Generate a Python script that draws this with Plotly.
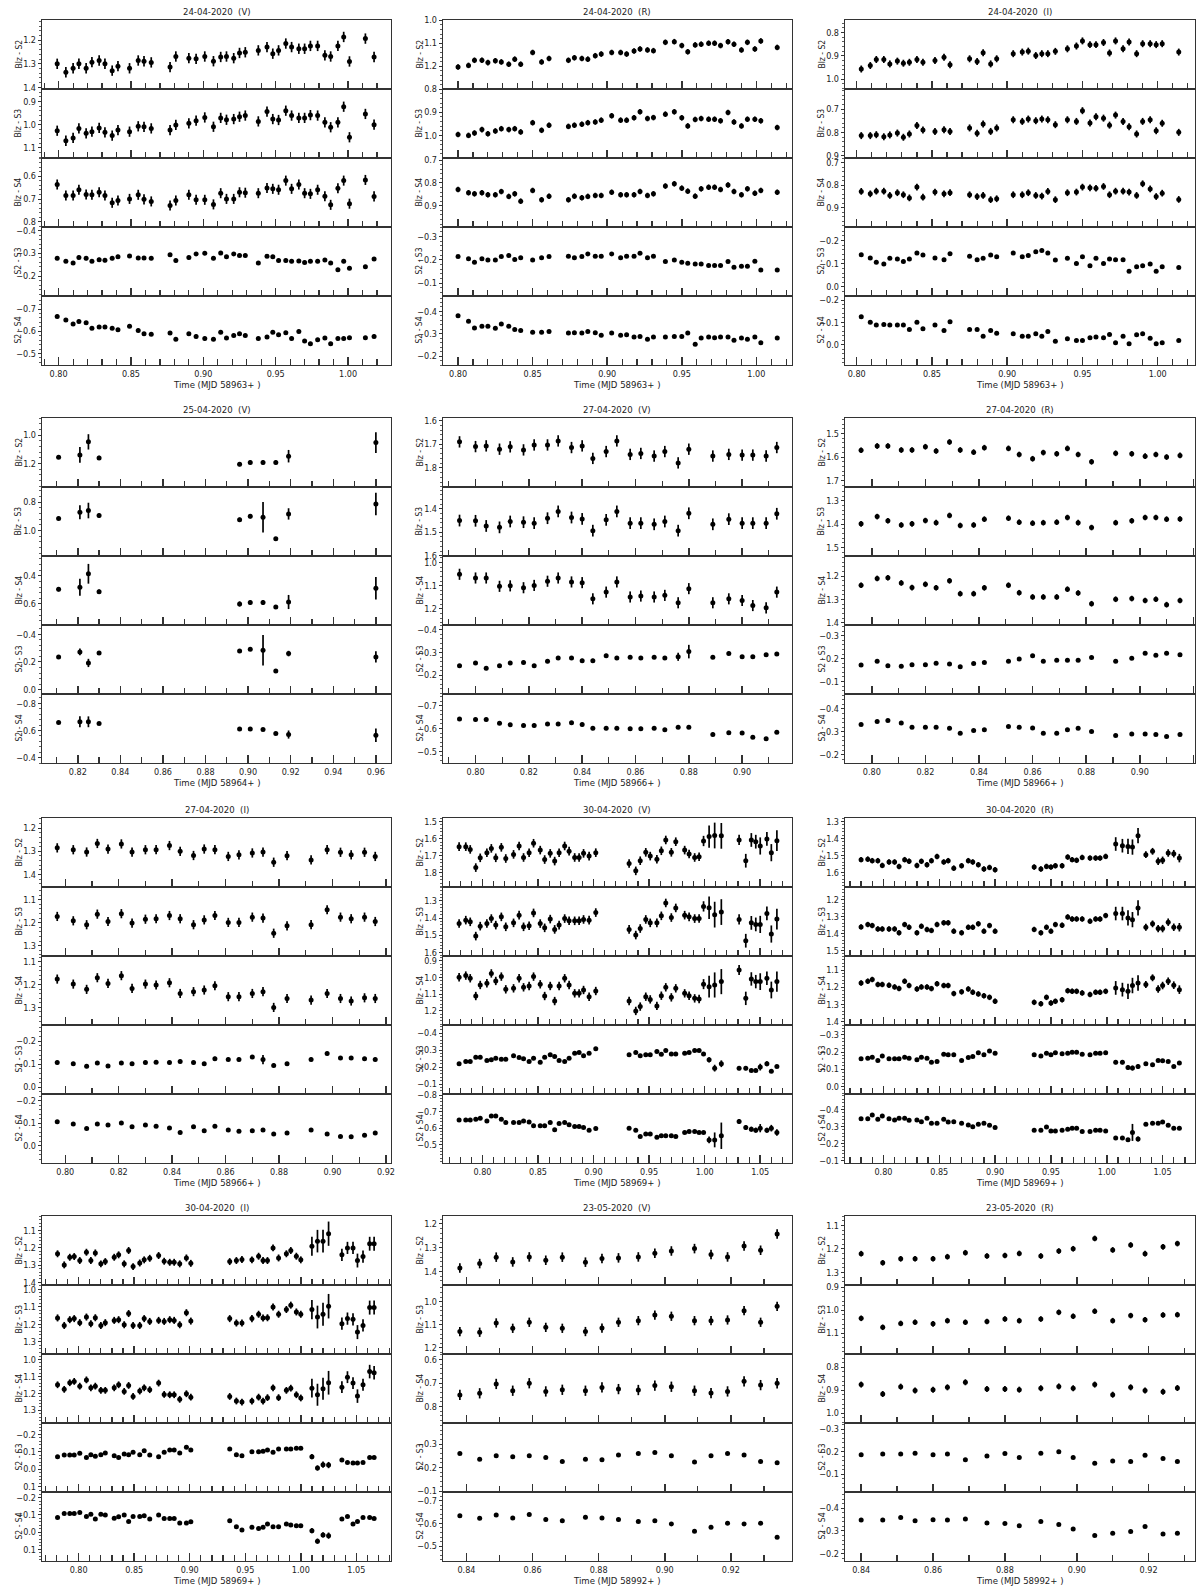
import plotly.graph_objects as go

# ---------------- Panel 1: 24-04-2020 (V) ----------------
p1_t = [0.799,0.805,0.810,0.814,0.819,0.823,0.828,0.832,0.837,0.841,0.849,0.855,0.859,0.864,0.877,0.881,0.890,0.895,0.901,0.907,0.912,0.916,0.921,0.925,0.929,0.938,0.944,0.948,0.952,0.957,0.961,0.966,0.970,0.974,0.979,0.984,0.988,0.993,0.997,1.001,1.012,1.018]
p1_s2 = [1.300,1.336,1.319,1.300,1.319,1.293,1.286,1.300,1.329,1.310,1.319,1.286,1.289,1.294,1.314,1.269,1.276,1.279,1.269,1.289,1.271,1.269,1.276,1.254,1.251,1.243,1.229,1.257,1.243,1.214,1.229,1.236,1.236,1.224,1.224,1.264,1.269,1.224,1.186,1.290,1.193,1.271]
p1_s3 = [1.026,1.069,1.057,1.016,1.037,1.030,1.014,1.033,1.047,1.023,1.030,1.007,1.009,1.016,1.023,1.001,0.994,0.983,0.969,1.009,0.971,0.979,0.976,0.966,0.961,0.986,0.944,0.976,0.980,0.940,0.961,0.971,0.971,0.959,0.961,0.990,1.011,0.990,0.923,1.054,0.954,1.000]
p1_s4 = [0.636,0.684,0.684,0.659,0.680,0.681,0.670,0.684,0.716,0.706,0.699,0.681,0.701,0.710,0.728,0.706,0.681,0.703,0.703,0.723,0.674,0.699,0.699,0.670,0.672,0.674,0.651,0.655,0.659,0.619,0.655,0.636,0.674,0.677,0.659,0.687,0.725,0.652,0.619,0.720,0.616,0.688]
p1_s23 = [-0.278,-0.265,-0.257,-0.282,-0.278,-0.265,-0.272,-0.269,-0.278,-0.285,-0.288,-0.279,-0.279,-0.278,-0.293,-0.268,-0.281,-0.297,-0.300,-0.278,-0.301,-0.285,-0.297,-0.290,-0.290,-0.257,-0.287,-0.285,-0.268,-0.268,-0.265,-0.266,-0.260,-0.265,-0.265,-0.271,-0.257,-0.228,-0.265,-0.235,-0.241,-0.275]
p1_s24 = [-0.667,-0.651,-0.633,-0.644,-0.638,-0.614,-0.619,-0.619,-0.614,-0.607,-0.623,-0.604,-0.589,-0.587,-0.592,-0.564,-0.589,-0.577,-0.567,-0.564,-0.596,-0.570,-0.581,-0.589,-0.581,-0.567,-0.574,-0.596,-0.584,-0.593,-0.567,-0.599,-0.556,-0.544,-0.562,-0.570,-0.544,-0.567,-0.567,-0.571,-0.571,-0.577]
p1_err = [0.022, 0.022, 0.022, 0.008, 0.008]
p1_yticks = [[1.2,1.3,1.4],[0.9,1.0,1.1],[0.6,0.7,0.8],[-0.4,-0.3,-0.2],[-0.7,-0.6,-0.5]]
p1_xticks = [0.80,0.85,0.90,0.95,1.00]

# ---------------- Panel 2: 24-04-2020 (R) ----------------
p2_t = [0.800,0.807,0.811,0.816,0.820,0.825,0.829,0.834,0.838,0.842,0.850,0.856,0.861,0.874,0.878,0.883,0.887,0.892,0.896,0.903,0.909,0.913,0.918,0.922,0.927,0.931,0.939,0.945,0.950,0.954,0.959,0.963,0.968,0.972,0.976,0.981,0.985,0.990,0.994,0.999,1.003,1.014]
p2_s2 = [1.203,1.196,1.174,1.174,1.184,1.176,1.181,1.191,1.169,1.191,1.140,1.181,1.166,1.174,1.163,1.166,1.169,1.154,1.147,1.140,1.140,1.147,1.134,1.125,1.129,1.132,1.096,1.093,1.110,1.137,1.107,1.104,1.100,1.100,1.110,1.093,1.104,1.129,1.096,1.125,1.090,1.118]
p2_s3 = [0.996,1.000,0.990,0.975,0.993,0.981,0.971,0.975,0.971,0.985,0.945,0.978,0.956,0.961,0.956,0.952,0.945,0.942,0.934,0.915,0.934,0.934,0.924,0.898,0.927,0.923,0.908,0.898,0.924,0.959,0.931,0.927,0.930,0.930,0.937,0.901,0.942,0.959,0.930,0.930,0.937,0.966]
p2_s4 = [0.829,0.843,0.848,0.843,0.852,0.852,0.838,0.859,0.848,0.880,0.833,0.874,0.858,0.874,0.858,0.865,0.859,0.855,0.855,0.841,0.852,0.852,0.852,0.838,0.855,0.848,0.814,0.804,0.823,0.836,0.858,0.826,0.819,0.819,0.829,0.809,0.838,0.852,0.826,0.845,0.833,0.841]
p2_s23 = [-0.214,-0.204,-0.189,-0.204,-0.199,-0.199,-0.214,-0.218,-0.201,-0.208,-0.199,-0.208,-0.214,-0.215,-0.208,-0.214,-0.225,-0.215,-0.215,-0.225,-0.208,-0.215,-0.215,-0.228,-0.208,-0.215,-0.192,-0.199,-0.189,-0.185,-0.182,-0.182,-0.175,-0.175,-0.175,-0.192,-0.168,-0.172,-0.172,-0.194,-0.156,-0.156]
p2_s24 = [-0.381,-0.356,-0.326,-0.334,-0.334,-0.325,-0.344,-0.334,-0.319,-0.315,-0.307,-0.307,-0.310,-0.303,-0.304,-0.303,-0.310,-0.304,-0.293,-0.303,-0.293,-0.296,-0.285,-0.288,-0.275,-0.285,-0.285,-0.288,-0.288,-0.303,-0.253,-0.281,-0.285,-0.282,-0.285,-0.285,-0.271,-0.281,-0.275,-0.285,-0.260,-0.281]
p2_err = [0.012, 0.012, 0.012, 0.006, 0.006]
p2_yticks = [[1.0,1.1,1.2],[0.8,0.9,1.0],[0.7,0.8,0.9],[-0.3,-0.2,-0.1],[-0.4,-0.3,-0.2]]
p2_xticks = [0.80,0.85,0.90,0.95,1.00]

# ---------------- Panel 3: 24-04-2020 (I) ----------------
p3_t = [0.803,0.809,0.813,0.818,0.822,0.827,0.831,0.835,0.840,0.844,0.852,0.858,0.862,0.875,0.880,0.884,0.889,0.893,0.904,0.910,0.914,0.919,0.923,0.927,0.932,0.940,0.946,0.950,0.955,0.959,0.964,0.968,0.972,0.977,0.981,0.986,0.990,0.995,0.999,1.003,1.014]
p3_s2 = [0.957,0.942,0.916,0.916,0.935,0.923,0.932,0.928,0.916,0.928,0.920,0.906,0.939,0.913,0.925,0.887,0.935,0.913,0.891,0.884,0.880,0.899,0.891,0.891,0.881,0.870,0.858,0.836,0.852,0.852,0.843,0.888,0.836,0.870,0.841,0.891,0.848,0.848,0.852,0.848,0.884]
p3_s3 = [0.814,0.814,0.810,0.819,0.811,0.803,0.821,0.807,0.771,0.790,0.796,0.789,0.796,0.781,0.804,0.764,0.796,0.781,0.746,0.753,0.743,0.750,0.743,0.746,0.767,0.746,0.753,0.707,0.760,0.733,0.739,0.769,0.726,0.753,0.776,0.807,0.753,0.746,0.793,0.761,0.800]
p3_s4 = [0.827,0.838,0.826,0.826,0.845,0.833,0.842,0.856,0.808,0.853,0.830,0.838,0.833,0.842,0.850,0.845,0.864,0.860,0.842,0.842,0.833,0.845,0.848,0.827,0.864,0.833,0.830,0.808,0.811,0.813,0.805,0.842,0.826,0.826,0.830,0.845,0.793,0.816,0.850,0.835,0.863]
p3_s23 = [-0.139,-0.125,-0.106,-0.099,-0.123,-0.120,-0.110,-0.120,-0.146,-0.138,-0.125,-0.117,-0.143,-0.132,-0.117,-0.123,-0.138,-0.130,-0.146,-0.130,-0.135,-0.152,-0.157,-0.146,-0.116,-0.123,-0.101,-0.130,-0.091,-0.123,-0.101,-0.120,-0.117,-0.117,-0.067,-0.087,-0.091,-0.099,-0.067,-0.087,-0.084]
p3_s24 = [-0.125,-0.100,-0.088,-0.090,-0.088,-0.088,-0.088,-0.068,-0.100,-0.071,-0.088,-0.063,-0.103,-0.068,-0.068,-0.038,-0.063,-0.051,-0.049,-0.038,-0.038,-0.049,-0.038,-0.059,-0.015,-0.026,-0.019,-0.019,-0.031,-0.034,-0.031,-0.046,-0.009,-0.038,-0.004,-0.044,-0.049,-0.029,-0.004,-0.009,-0.019]
p3_err = [0.015, 0.015, 0.015, 0.007, 0.007]
p3_yticks = [[0.8,0.9,1.0],[0.7,0.8,0.9],[0.7,0.8,0.9],[-0.2,-0.1,0.0],[-0.2,-0.1,0.0]]
p3_xticks = [0.80,0.85,0.90,0.95,1.00]

# ---------------- Panel 4: 25-04-2020 (V) ----------------
p4_t = [0.811,0.821,0.825,0.830,0.896,0.901,0.907,0.913,0.919,0.960]
p4_s2 = [1.157,1.140,1.048,1.161,1.205,1.193,1.193,1.193,1.149,1.053]
p4_s3 = [0.916,0.872,0.860,0.896,0.925,0.901,0.908,1.060,0.884,0.814]
p4_s4 = [0.496,0.482,0.386,0.513,0.600,0.590,0.590,0.622,0.586,0.489]
p4_s23 = [-0.237,-0.273,-0.193,-0.266,-0.280,-0.293,-0.285,-0.134,-0.261,-0.237]
p4_s24 = [-0.659,-0.664,-0.664,-0.652,-0.610,-0.610,-0.607,-0.578,-0.570,-0.565]
p4_err = [
    [0.012,0.056,0.054,0.015,0.015,0.014,0.015,0.014,0.044,0.073],
    [0.012,0.050,0.055,0.015,0.015,0.015,0.108,0.012,0.040,0.080],
    [0.015,0.060,0.070,0.015,0.018,0.015,0.018,0.012,0.050,0.080],
    [0.010,0.025,0.030,0.010,0.010,0.010,0.110,0.008,0.020,0.040],
    [0.010,0.040,0.040,0.010,0.010,0.010,0.010,0.010,0.030,0.050]]
p4_yticks = [[1.0,1.2],[0.8,1.0],[0.4,0.6],[-0.4,-0.2,0.0],[-0.8,-0.6,-0.4]]
p4_xticks = [0.82,0.84,0.86,0.88,0.90,0.92,0.94,0.96]

# ---------------- Panel 5: 27-04-2020 (V) ----------------
p5_t = [0.794,0.800,0.804,0.809,0.813,0.818,0.822,0.827,0.831,0.836,0.840,0.844,0.849,0.853,0.858,0.862,0.867,0.871,0.876,0.880,0.889,0.895,0.900,0.904,0.909,0.913]
p5_s2 = [1.690,1.710,1.707,1.721,1.711,1.724,1.703,1.703,1.686,1.714,1.707,1.760,1.731,1.686,1.743,1.739,1.750,1.731,1.779,1.721,1.750,1.743,1.746,1.746,1.750,1.714]
p5_s3 = [1.450,1.451,1.473,1.479,1.454,1.457,1.461,1.440,1.411,1.437,1.443,1.493,1.447,1.411,1.461,1.461,1.466,1.454,1.493,1.419,1.466,1.444,1.461,1.461,1.461,1.421]
p5_s4 = [1.051,1.067,1.067,1.103,1.101,1.109,1.099,1.081,1.067,1.084,1.087,1.157,1.128,1.084,1.149,1.145,1.149,1.142,1.174,1.113,1.174,1.157,1.164,1.186,1.196,1.128]
p5_s23 = [-0.241,-0.253,-0.230,-0.241,-0.253,-0.256,-0.241,-0.261,-0.276,-0.276,-0.264,-0.264,-0.286,-0.276,-0.279,-0.276,-0.279,-0.276,-0.281,-0.304,-0.279,-0.296,-0.281,-0.281,-0.290,-0.293]
p5_s24 = [-0.642,-0.639,-0.639,-0.623,-0.616,-0.613,-0.613,-0.620,-0.620,-0.625,-0.617,-0.601,-0.601,-0.601,-0.599,-0.599,-0.601,-0.594,-0.606,-0.606,-0.574,-0.581,-0.580,-0.562,-0.555,-0.584]
p5_err = [0.024, 0.025, 0.024, (0.008, {18: 0.018, 19: 0.03}), 0.008]
p5_yticks = [[1.6,1.7,1.8],[1.4,1.5,1.6],[1.0,1.1,1.2],[-0.4,-0.3,-0.2],[-0.7,-0.6,-0.5]]
p5_xticks = [0.80,0.82,0.84,0.86,0.88,0.90]

# ---------------- Panel 6: 27-04-2020 (R) ----------------
p6_t = [0.796,0.802,0.806,0.811,0.815,0.820,0.824,0.829,0.833,0.838,0.842,0.851,0.855,0.860,0.864,0.869,0.873,0.877,0.882,0.891,0.897,0.902,0.906,0.910,0.915]
p6_s2 = [1.571,1.553,1.553,1.570,1.570,1.556,1.574,1.536,1.570,1.579,1.560,1.563,1.589,1.607,1.581,1.586,1.563,1.589,1.620,1.584,1.586,1.596,1.589,1.600,1.593]
p6_s3 = [1.399,1.368,1.386,1.404,1.399,1.385,1.394,1.363,1.406,1.404,1.379,1.375,1.392,1.396,1.394,1.392,1.372,1.394,1.415,1.394,1.386,1.372,1.372,1.379,1.378]
p6_s4 = [1.239,1.210,1.207,1.229,1.249,1.235,1.250,1.220,1.275,1.275,1.250,1.239,1.271,1.289,1.289,1.289,1.256,1.272,1.318,1.299,1.296,1.304,1.299,1.322,1.304]
p6_s23 = [-0.172,-0.188,-0.169,-0.166,-0.173,-0.173,-0.180,-0.176,-0.164,-0.179,-0.183,-0.188,-0.198,-0.212,-0.188,-0.193,-0.193,-0.193,-0.205,-0.188,-0.201,-0.223,-0.215,-0.223,-0.217]
p6_s24 = [-0.332,-0.345,-0.349,-0.338,-0.320,-0.320,-0.320,-0.316,-0.294,-0.306,-0.309,-0.323,-0.320,-0.317,-0.294,-0.294,-0.309,-0.316,-0.301,-0.284,-0.291,-0.291,-0.288,-0.280,-0.288]
p6_err = [0.012, 0.012, 0.012, 0.005, 0.005]
p6_yticks = [[1.5,1.6,1.7],[1.3,1.4,1.5],[1.2,1.3,1.4],[-0.3,-0.2,-0.1],[-0.4,-0.3,-0.2]]
p6_xticks = [0.80,0.82,0.84,0.86,0.88,0.90,0.92]

# ---------------- Panel 7: 27-04-2020 (I) ----------------
p7_t = [0.797,0.803,0.808,0.812,0.816,0.821,0.825,0.830,0.834,0.839,0.843,0.848,0.852,0.856,0.861,0.865,0.870,0.874,0.878,0.883,0.892,0.898,0.903,0.907,0.912,0.916]
p7_s2 = [1.285,1.293,1.303,1.266,1.290,1.268,1.303,1.293,1.293,1.275,1.300,1.318,1.290,1.293,1.322,1.315,1.307,1.303,1.347,1.319,1.337,1.293,1.304,1.315,1.304,1.322]
p7_s3 = [1.173,1.192,1.209,1.163,1.195,1.161,1.202,1.185,1.183,1.169,1.183,1.209,1.188,1.169,1.199,1.199,1.176,1.180,1.246,1.214,1.209,1.144,1.176,1.183,1.176,1.195]
p7_s4 = [1.176,1.198,1.221,1.170,1.195,1.161,1.217,1.198,1.202,1.192,1.239,1.231,1.224,1.205,1.253,1.253,1.239,1.231,1.300,1.261,1.268,1.239,1.261,1.272,1.258,1.261]
p7_s23 = [-0.107,-0.102,-0.091,-0.105,-0.092,-0.105,-0.102,-0.107,-0.109,-0.107,-0.112,-0.107,-0.102,-0.124,-0.121,-0.120,-0.131,-0.120,-0.095,-0.102,-0.121,-0.146,-0.127,-0.127,-0.124,-0.121]
p7_s24 = [-0.107,-0.096,-0.077,-0.096,-0.092,-0.101,-0.084,-0.092,-0.086,-0.079,-0.059,-0.084,-0.067,-0.086,-0.070,-0.064,-0.067,-0.070,-0.052,-0.056,-0.070,-0.052,-0.041,-0.040,-0.047,-0.056]
p7_err = [0.02, 0.02, 0.02, (0.008, {17: 0.02}), 0.006]
p7_yticks = [[1.2,1.3,1.4],[1.1,1.2,1.3],[1.1,1.2,1.3],[-0.2,-0.1,0.0],[-0.2,-0.1,0.0]]
p7_xticks = [0.80,0.82,0.84,0.86,0.88,0.90,0.92]

# ---------------- Panel 8: 30-04-2020 (V) ----------------
p8_t = [0.779,0.785,0.789,0.794,0.798,0.804,0.808,0.812,0.817,0.821,0.828,0.833,0.837,0.842,0.846,0.852,0.856,0.861,0.865,0.869,0.874,0.878,0.883,0.887,0.891,0.896,0.902,
        0.932,0.938,0.942,0.947,0.951,0.957,0.961,0.965,0.970,0.974,0.982,0.986,0.991,0.995,0.999,1.004,1.009,1.015,
        1.031,1.037,1.042,1.046,1.050,1.056,1.060,1.065]
p8_s2 = [1.647,1.647,1.663,1.769,1.712,1.682,1.657,1.712,1.651,1.716,1.692,1.643,1.710,1.682,1.627,1.667,1.722,1.686,1.731,1.682,1.643,1.673,1.710,1.710,1.686,1.702,1.682,
         1.745,1.788,1.729,1.680,1.702,1.720,1.671,1.608,1.680,1.618,1.667,1.690,1.710,1.706,1.614,1.588,1.582,1.584,
         1.608,1.729,1.608,1.618,1.643,1.602,1.682,1.612]
p8_s3 = [1.432,1.412,1.422,1.505,1.447,1.432,1.403,1.441,1.393,1.451,1.428,1.383,1.451,1.445,1.370,1.432,1.457,1.406,1.466,1.441,1.403,1.416,1.416,1.416,1.408,1.412,1.368,
         1.466,1.499,1.461,1.408,1.428,1.428,1.387,1.312,1.397,1.341,1.383,1.393,1.403,1.403,1.332,1.340,1.380,1.365,
         1.408,1.532,1.428,1.437,1.437,1.373,1.493,1.406]
p8_s4 = [0.999,0.989,1.005,1.111,1.045,1.035,0.976,1.021,0.995,1.071,1.065,1.005,1.059,1.051,0.995,1.041,1.111,1.051,1.141,1.051,1.005,1.045,1.095,1.095,1.075,1.115,1.081,
         1.141,1.200,1.174,1.115,1.131,1.170,1.109,1.059,1.119,1.065,1.095,1.109,1.125,1.129,1.040,1.055,1.045,1.025,
         0.956,1.125,1.009,1.025,1.025,1.005,1.075,1.025]
p8_s23 = [-0.220,-0.233,-0.233,-0.259,-0.259,-0.239,-0.243,-0.253,-0.247,-0.247,-0.267,-0.257,-0.249,-0.233,-0.253,-0.229,-0.259,-0.273,-0.263,-0.239,-0.233,-0.253,-0.282,-0.286,-0.267,-0.282,-0.308,
          -0.273,-0.286,-0.267,-0.273,-0.273,-0.292,-0.276,-0.298,-0.278,-0.278,-0.282,-0.286,-0.298,-0.298,-0.278,-0.243,-0.194,-0.220,
          -0.194,-0.194,-0.180,-0.180,-0.200,-0.220,-0.175,-0.204]
p8_s24 = [-0.651,-0.651,-0.651,-0.655,-0.661,-0.645,-0.675,-0.675,-0.655,-0.635,-0.635,-0.635,-0.645,-0.639,-0.615,-0.615,-0.615,-0.635,-0.591,-0.629,-0.635,-0.621,-0.611,-0.611,-0.605,-0.589,-0.599,
          -0.601,-0.589,-0.550,-0.565,-0.565,-0.546,-0.555,-0.555,-0.555,-0.550,-0.575,-0.581,-0.581,-0.575,-0.575,-0.530,-0.530,-0.555,
          -0.641,-0.605,-0.595,-0.589,-0.601,-0.589,-0.601,-0.575]
p8_blz_big = {41: 0.03, 42: 0.065, 43: 0.075, 44: 0.075, 45: 0.03, 46: 0.04, 47: 0.04, 48: 0.04, 49: 0.05, 50: 0.04, 51: 0.05, 52: 0.06}
p8_err = [(0.025, p8_blz_big), (0.025, p8_blz_big), (0.025, p8_blz_big),
          (0.008, {42: 0.015, 43: 0.02, 44: 0.02, 45: 0.012, 46: 0.012, 49: 0.02, 50: 0.015}),
          (0.008, {42: 0.02, 43: 0.045, 44: 0.08, 45: 0.015, 46: 0.015, 47: 0.015, 48: 0.015, 49: 0.025, 50: 0.015, 51: 0.02, 52: 0.02})]
p8_yticks = [[1.5,1.6,1.7,1.8],[1.3,1.4,1.5,1.6],[0.9,1.0,1.1,1.2],[-0.4,-0.3,-0.2,-0.1],[-0.8,-0.7,-0.6,-0.5]]
p8_xticks = [0.80,0.85,0.90,0.95,1.00,1.05]

# ---------------- Panel 9: 30-04-2020 (R) ----------------
p9_t = [0.780,0.786,0.790,0.795,0.799,0.805,0.810,0.814,0.819,0.823,0.830,0.834,0.839,0.843,0.848,0.854,0.858,0.863,0.870,0.876,0.880,0.885,0.890,0.895,0.900,
        0.935,0.941,0.946,0.950,0.954,0.960,0.965,0.969,0.973,0.978,0.985,0.990,0.994,0.999,1.008,1.014,1.019,1.023,1.028,1.035,1.041,1.046,1.050,1.055,1.060,1.065]
p9_s2 = [1.525,1.522,1.531,1.531,1.559,1.539,1.539,1.565,1.525,1.535,1.559,1.535,1.555,1.531,1.506,1.539,1.531,1.575,1.561,1.531,1.539,1.555,1.580,1.571,1.584,
         1.569,1.580,1.565,1.569,1.561,1.561,1.510,1.525,1.529,1.512,1.516,1.516,1.516,1.506,1.433,1.443,1.447,1.451,1.384,1.496,1.476,1.535,1.529,1.486,1.490,1.516]
p9_s3 = [1.361,1.347,1.353,1.373,1.373,1.373,1.373,1.396,1.347,1.363,1.396,1.357,1.376,1.382,1.347,1.337,1.337,1.386,1.396,1.363,1.363,1.343,1.386,1.353,1.386,
         1.376,1.396,1.363,1.386,1.347,1.351,1.302,1.314,1.314,1.314,1.327,1.314,1.314,1.294,1.282,1.282,1.308,1.318,1.249,1.363,1.343,1.371,1.371,1.333,1.363,1.363]
p9_s4 = [1.175,1.165,1.155,1.184,1.184,1.188,1.198,1.208,1.165,1.190,1.210,1.198,1.198,1.208,1.180,1.190,1.190,1.237,1.227,1.210,1.229,1.239,1.249,1.259,1.282,
         1.288,1.296,1.259,1.292,1.282,1.273,1.220,1.224,1.224,1.233,1.243,1.229,1.229,1.224,1.204,1.214,1.224,1.190,1.175,1.184,1.145,1.210,1.190,1.165,1.188,1.214]
p9_s23 = [-0.161,-0.165,-0.170,-0.151,-0.178,-0.161,-0.161,-0.161,-0.170,-0.165,-0.155,-0.170,-0.165,-0.141,-0.145,-0.188,-0.184,-0.184,-0.151,-0.168,-0.174,-0.197,-0.184,-0.207,-0.194,
          -0.184,-0.178,-0.194,-0.184,-0.197,-0.190,-0.194,-0.199,-0.199,-0.188,-0.184,-0.194,-0.194,-0.197,-0.141,-0.141,-0.110,-0.107,-0.116,-0.132,-0.126,-0.151,-0.149,-0.145,-0.116,-0.136]
p9_s24 = [-0.346,-0.346,-0.367,-0.342,-0.361,-0.346,-0.338,-0.348,-0.348,-0.336,-0.338,-0.328,-0.348,-0.319,-0.319,-0.342,-0.326,-0.328,-0.319,-0.309,-0.299,-0.313,-0.319,-0.307,-0.294,
          -0.278,-0.278,-0.297,-0.274,-0.274,-0.278,-0.284,-0.290,-0.290,-0.270,-0.270,-0.278,-0.278,-0.274,-0.232,-0.232,-0.222,-0.265,-0.226,-0.313,-0.319,-0.319,-0.326,-0.307,-0.290,-0.290]
p9_blz_big = {39: 0.04, 40: 0.04, 41: 0.045, 42: 0.045, 43: 0.045, 44: 0.02, 45: 0.02, 46: 0.022, 47: 0.022, 48: 0.022, 49: 0.022, 50: 0.025}
p9_err = [(0.016, p9_blz_big), (0.016, p9_blz_big), (0.016, p9_blz_big),
          (0.008, {39: 0.012, 40: 0.012, 41: 0.012, 42: 0.014, 43: 0.014}),
          (0.007, {39: 0.01, 40: 0.01, 41: 0.01, 42: 0.05, 43: 0.015})]
p9_yticks = [[1.3,1.4,1.5,1.6],[1.2,1.3,1.4,1.5],[1.1,1.2,1.3,1.4],[-0.3,-0.2,-0.1,0.0],[-0.4,-0.3,-0.2,-0.1]]
p9_xticks = [0.80,0.85,0.90,0.95,1.00,1.05]

# ---------------- Panel 10: 30-04-2020 (I) ----------------
p10_t = [0.781,0.787,0.792,0.796,0.801,0.807,0.811,0.815,0.820,0.824,0.832,0.836,0.841,0.845,0.849,0.855,0.859,0.864,0.872,0.877,0.882,0.886,0.891,0.897,0.901,
         0.936,0.942,0.947,0.956,0.962,0.966,0.970,0.975,0.980,0.987,0.991,0.996,1.000,1.010,1.015,1.020,1.025,1.037,1.042,1.047,1.051,1.056,1.062,1.066]
p10_s2 = [1.235,1.299,1.255,1.251,1.274,1.226,1.274,1.230,1.293,1.280,1.255,1.241,1.293,1.216,1.309,1.288,1.270,1.261,1.245,1.278,1.284,1.284,1.293,1.259,1.290,
          1.280,1.274,1.268,1.270,1.249,1.274,1.274,1.201,1.259,1.235,1.216,1.249,1.270,1.191,1.162,1.162,1.119,1.241,1.201,1.201,1.274,1.251,1.177,1.177]
p10_s3 = [1.163,1.206,1.173,1.167,1.190,1.158,1.196,1.162,1.206,1.190,1.177,1.173,1.202,1.138,1.206,1.206,1.167,1.183,1.177,1.183,1.173,1.177,1.202,1.133,1.181,
          1.167,1.192,1.192,1.167,1.142,1.163,1.162,1.100,1.142,1.115,1.090,1.129,1.142,1.115,1.158,1.142,1.096,1.196,1.167,1.171,1.244,1.206,1.104,1.104]
p10_s4 = [1.149,1.176,1.137,1.129,1.157,1.120,1.167,1.157,1.182,1.182,1.167,1.149,1.188,1.153,1.218,1.186,1.167,1.178,1.139,1.206,1.208,1.208,1.235,1.202,1.222,
          1.218,1.245,1.251,1.245,1.222,1.245,1.225,1.167,1.225,1.182,1.169,1.208,1.227,1.169,1.208,1.173,1.137,1.163,1.104,1.139,1.216,1.149,1.071,1.078]
p10_s23 = [-0.072,-0.082,-0.082,-0.082,-0.092,-0.068,-0.084,-0.074,-0.084,-0.094,-0.078,-0.068,-0.088,-0.084,-0.097,-0.084,-0.107,-0.082,-0.072,-0.097,-0.111,-0.111,-0.094,-0.126,-0.111,
           -0.117,-0.084,-0.078,-0.101,-0.101,-0.103,-0.111,-0.097,-0.117,-0.117,-0.117,-0.121,-0.121,-0.072,-0.007,-0.026,-0.024,-0.053,-0.039,-0.036,-0.036,-0.039,-0.068,-0.068]
p10_s24 = [-0.085,-0.108,-0.108,-0.108,-0.114,-0.091,-0.104,-0.076,-0.104,-0.099,-0.081,-0.089,-0.099,-0.062,-0.091,-0.091,-0.095,-0.076,-0.099,-0.080,-0.080,-0.080,-0.053,-0.053,-0.060,
           -0.066,-0.032,-0.013,-0.028,-0.022,-0.028,-0.047,-0.032,-0.032,-0.047,-0.041,-0.037,-0.037,-0.009,0.052,0.016,0.020,-0.076,-0.091,-0.047,-0.062,-0.085,-0.085,-0.080]
p10_blz_big = {38: 0.055, 39: 0.065, 40: 0.065, 41: 0.07, 42: 0.035, 43: 0.035, 44: 0.035, 45: 0.04, 46: 0.035, 47: 0.04, 48: 0.04}
p10_err = [(0.02, p10_blz_big), (0.02, p10_blz_big), (0.02, p10_blz_big),
           (0.008, {38: 0.015, 39: 0.015, 40: 0.018, 41: 0.018}),
           (0.007, {38: 0.015, 39: 0.015, 40: 0.015, 41: 0.018})]
p10_yticks = [[1.1,1.2,1.3,1.4],[1.0,1.1,1.2,1.3],[1.0,1.1,1.2,1.3],[-0.2,-0.1,0.0,0.1],[-0.2,-0.1,0.0,0.1]]
p10_xticks = [0.80,0.85,0.90,0.95,1.00,1.05]

# ---------------- Panel 11: 23-05-2020 (V) ----------------
p11_t = [0.838,0.844,0.849,0.854,0.859,0.864,0.869,0.876,0.881,0.886,0.892,0.897,0.902,0.909,0.914,0.919,0.924,0.929,0.934]
p11_s2 = [1.386,1.367,1.340,1.360,1.339,1.353,1.340,1.361,1.346,1.343,1.339,1.324,1.314,1.304,1.329,1.339,1.293,1.311,1.243]
p11_s3 = [1.129,1.132,1.092,1.115,1.089,1.111,1.115,1.129,1.114,1.089,1.082,1.058,1.063,1.082,1.082,1.079,1.039,1.089,1.020]
p11_s4 = [0.751,0.744,0.704,0.733,0.701,0.736,0.729,0.733,0.719,0.726,0.730,0.711,0.716,0.733,0.743,0.736,0.693,0.709,0.701]
p11_s23 = [-0.260,-0.236,-0.250,-0.246,-0.250,-0.243,-0.226,-0.236,-0.233,-0.254,-0.260,-0.264,-0.250,-0.224,-0.250,-0.260,-0.254,-0.226,-0.221]
p11_s24 = [-0.634,-0.623,-0.637,-0.624,-0.639,-0.617,-0.612,-0.627,-0.624,-0.617,-0.609,-0.612,-0.598,-0.566,-0.583,-0.601,-0.598,-0.601,-0.539]
p11_err = [0.02, 0.02, 0.022, 0.006, 0.008]
p11_yticks = [[1.2,1.3,1.4],[1.0,1.1,1.2],[0.6,0.7,0.8],[-0.3,-0.2,-0.1],[-0.7,-0.6,-0.5]]
p11_xticks = [0.84,0.86,0.88,0.90,0.92]

# ---------------- Panel 12: 23-05-2020 (R) ----------------
p12_t = [0.840,0.846,0.851,0.855,0.860,0.864,0.869,0.875,0.880,0.884,0.890,0.895,0.899,0.905,0.910,0.915,0.919,0.924,0.928]
p12_s2 = [1.220,1.259,1.242,1.242,1.242,1.233,1.216,1.230,1.228,1.219,1.230,1.209,1.199,1.155,1.204,1.183,1.220,1.191,1.177]
p12_s3 = [1.035,1.074,1.057,1.052,1.059,1.045,1.052,1.049,1.038,1.045,1.038,1.009,1.026,1.004,1.045,1.023,1.041,1.020,1.019]
p12_s4 = [0.875,0.916,0.884,0.901,0.897,0.887,0.865,0.894,0.894,0.897,0.891,0.883,0.891,0.875,0.919,0.887,0.901,0.906,0.890]
p12_s23 = [-0.186,-0.189,-0.189,-0.193,-0.186,-0.189,-0.164,-0.181,-0.192,-0.174,-0.193,-0.199,-0.174,-0.149,-0.159,-0.156,-0.184,-0.170,-0.156]
p12_s24 = [-0.348,-0.348,-0.359,-0.345,-0.349,-0.348,-0.352,-0.335,-0.333,-0.323,-0.341,-0.328,-0.309,-0.280,-0.290,-0.297,-0.319,-0.287,-0.290]
p12_err = [0.012, 0.012, 0.013, 0.005, 0.005]
p12_yticks = [[1.1,1.2,1.3],[0.9,1.0,1.1],[0.8,0.9,1.0],[-0.3,-0.2,-0.1],[-0.4,-0.3,-0.2]]
p12_xticks = [0.84,0.86,0.88,0.90,0.92]

ylabels = ["Blz - S2", "Blz - S3", "Blz - S4", "S2 - S3", "S2 - S4"]

# panel definitions (axis ranges are layout: [bottom, top] -> reversed magnitude axes)
panels = [
    dict(title="24-04-2020  (V)", mjd="58963", t=p1_t, ys=[p1_s2, p1_s3, p1_s4, p1_s23, p1_s24], err=p1_err,
         yt=p1_yticks, xt=p1_xticks, xr=[0.7885, 1.0297],
         yr=[[1.407, 1.114], [1.143, 0.847], [0.822, 0.520], [-0.113, -0.415], [-0.448, -0.759]]),
    dict(title="24-04-2020  (R)", mjd="58963", t=p2_t, ys=[p2_s2, p2_s3, p2_s4, p2_s23, p2_s24], err=p2_err,
         yt=p2_yticks, xt=p2_xticks, xr=[0.7899, 1.0239],
         yr=[[1.2985, 0.999], [1.098, 0.799], [0.993, 0.691], [-0.045, -0.340], [-0.160, -0.469]]),
    dict(title="24-04-2020  (I)", mjd="58963", t=p3_t, ys=[p3_s2, p3_s3, p3_s4, p3_s23, p3_s24], err=p3_err,
         yt=p3_yticks, xt=p3_xticks, xr=[0.7922, 1.0248],
         yr=[[1.043, 0.746], [0.910, 0.614], [0.986, 0.678], [0.039, -0.258], [0.091, -0.218]]),
    dict(title="25-04-2020  (V)", mjd="58964", t=p4_t, ys=[p4_s2, p4_s3, p4_s4, p4_s23, p4_s24], err=p4_err,
         yt=p4_yticks, xt=p4_xticks, xr=[0.8032, 0.9671],
         yr=[[1.366, 0.880], [1.181, 0.694], [0.749, 0.260], [0.032, -0.468], [-0.360, -0.869]]),
    dict(title="27-04-2020  (V)", mjd="58966", t=p5_t, ys=[p5_s2, p5_s3, p5_s4, p5_s23, p5_s24], err=p5_err,
         yt=p5_yticks, xt=p5_xticks, xr=[0.7878, 0.9187],
         yr=[[1.881, 1.589], [1.601, 1.307], [1.270, 0.972], [-0.116, -0.422], [-0.449, -0.751]]),
    dict(title="27-04-2020  (R)", mjd="58966", t=p6_t, ys=[p6_s2, p6_s3, p6_s4, p6_s23, p6_s24], err=p6_err,
         yt=p6_yticks, xt=p6_xticks, xr=[0.790, 0.9206],
         yr=[[1.727, 1.434], [1.537, 1.241], [1.409, 1.114], [-0.045, -0.347], [-0.164, -0.465]]),
    dict(title="27-04-2020  (I)", mjd="58966", t=p7_t, ys=[p7_s2, p7_s3, p7_s4, p7_s23, p7_s24], err=p7_err,
         yt=p7_yticks, xt=p7_xticks, xr=[0.7913, 0.9219],
         yr=[[1.454, 1.156], [1.345, 1.045], [1.377, 1.075], [0.029, -0.270], [0.077, -0.230]]),
    dict(title="30-04-2020  (V)", mjd="58969", t=p8_t, ys=[p8_s2, p8_s3, p8_s4, p8_s23, p8_s24], err=p8_err,
         yt=p8_yticks, xt=p8_xticks, xr=[0.7645, 1.0786],
         yr=[[1.882, 1.480], [1.621, 1.219], [1.284, 0.872], [-0.041, -0.449], [-0.390, -0.808]]),
    dict(title="30-04-2020  (R)", mjd="58969", t=p9_t, ys=[p9_s2, p9_s3, p9_s4, p9_s23, p9_s24], err=p9_err,
         yt=p9_yticks, xt=p9_xticks, xr=[0.7656, 1.079],
         yr=[[1.686, 1.280], [1.533, 1.125], [1.420, 1.018], [0.044, -0.358], [-0.085, -0.491]]),
    dict(title="30-04-2020  (I)", mjd="58969", t=p10_t, ys=[p10_s2, p10_s3, p10_s4, p10_s23, p10_s24], err=p10_err,
         yt=p10_yticks, xt=p10_xticks, xr=[0.767, 1.0812],
         yr=[[1.415, 1.017], [1.369, 0.975], [1.375, 0.967], [0.131, -0.266], [0.167, -0.233]]),
    dict(title="23-05-2020  (V)", mjd="58992", t=p11_t, ys=[p11_s2, p11_s3, p11_s4, p11_s23, p11_s24], err=p11_err,
         yt=p11_yticks, xt=p11_xticks, xr=[0.8329, 0.9385],
         yr=[[1.457, 1.167], [1.226, 0.928], [0.871, 0.576], [-0.096, -0.390], [-0.434, -0.739]]),
    dict(title="23-05-2020  (R)", mjd="58992", t=p12_t, ys=[p12_s2, p12_s3, p12_s4, p12_s23, p12_s24], err=p12_err,
         yt=p12_yticks, xt=p12_xticks, xr=[0.8355, 0.9329],
         yr=[[1.354, 1.059], [1.190, 0.890], [1.042, 0.742], [-0.021, -0.327], [-0.168, -0.471]]),
]


def err_array(n, spec):
    if isinstance(spec, list):
        return spec
    if isinstance(spec, tuple):
        base, over = spec
    else:
        base, over = spec, {}
    arr = [base] * n
    for i, v in over.items():
        arr[i] = v
    return arr


FW, FH = 1200, 1592


def px(x):          # pixel x -> paper x
    return x / FW


def py(y):          # pixel y (from top) -> paper y
    return 1 - y / FH


# geometry in pixels
col_left = [42, 443, 845]
col_w = [349, 349, 350]
row_top = [20, 418, 818, 1216]
sub_h = 69

FONT = "DejaVu Sans Condensed, Liberation Sans Narrow, DejaVu Sans, sans-serif"
TXT = "#222222"
AX = "#333333"

fig = go.Figure()
layout = dict(width=FW, height=FH, margin=dict(l=0, r=0, t=0, b=0),
              paper_bgcolor="white", plot_bgcolor="white", showlegend=False,
              template="none", font=dict(family=FONT, size=9, color=TXT))
annotations = []

for p, pan in enumerate(panels):
    R, C = divmod(p, 3)
    left = col_left[C]
    right = col_left[C] + col_w[C]
    n = len(pan["t"])
    for r in range(5):
        k = p * 5 + r + 1
        top = row_top[R] + r * sub_h
        bot = top + sub_h
        xname = "xaxis" if k == 1 else f"xaxis{k}"
        yname = "yaxis" if k == 1 else f"yaxis{k}"
        layout[xname] = dict(
            domain=[px(left), px(right)], anchor=f"y{k}", range=pan["xr"],
            showline=True, mirror=True, linecolor=AX, linewidth=1.2,
            ticks="inside", ticklen=8, tickwidth=1.5, tickcolor=AX,
            tickmode="array", tickvals=pan["xt"], tickformat=".2f",
            showticklabels=(r == 4), tickfont=dict(family=FONT, size=9, color=TXT),
            minor=dict(tickmode="linear", tick0=0, dtick=0.01, ticks="inside", ticklen=6, tickwidth=1.2, tickcolor=AX),
            showgrid=False, zeroline=False)
        yt = pan["yt"][r]
        step = round(yt[1] - yt[0], 3)
        layout[yname] = dict(
            domain=[py(bot), py(top)], anchor=f"x{k}", range=pan["yr"][r],
            showline=True, mirror=True, linecolor=AX, linewidth=1.2,
            ticks="outside", ticklen=3, tickwidth=1, tickcolor=AX,
            tickmode="array", tickvals=yt, tickformat=".1f",
            tickfont=dict(family=FONT, size=9, color=TXT),
            minor=dict(tickmode="linear", tick0=0, dtick=step / 5, ticks="outside", ticklen=2, tickwidth=0.8, tickcolor=AX),
            showgrid=False, zeroline=False)
        fig.add_trace(go.Scatter(
            x=pan["t"], y=pan["ys"][r], mode="markers",
            marker=dict(color="black", size=5, symbol="circle"),
            error_y=dict(type="data", array=err_array(n, pan["err"][r]), visible=True,
                         thickness=1.7, width=0, color="black"),
            xaxis=f"x{k}", yaxis=f"y{k}", hoverinfo="skip"))
        annotations.append(dict(
            x=px(left - 24), y=py(top + sub_h / 2), xref="paper", yref="paper",
            text=ylabels[r], textangle=-90, showarrow=False, xanchor="center", yanchor="middle",
            font=dict(family=FONT, size=8.5, color=TXT)))
    annotations.append(dict(
        x=px((left + right) / 2), y=py(row_top[R] - 1), xref="paper", yref="paper",
        text=pan["title"].replace("  ", " \u00a0"), showarrow=False, xanchor="center", yanchor="bottom",
        font=dict(family=FONT, size=9.5, color=TXT)))
    annotations.append(dict(
        x=px((left + right) / 2), y=py(row_top[R] + 5 * sub_h + 12), xref="paper", yref="paper",
        text=f"Time (MJD {pan['mjd']}+ )", showarrow=False, xanchor="center", yanchor="top",
        font=dict(family=FONT, size=9.5, color=TXT)))

layout["annotations"] = annotations
fig.update_layout(**layout)
# no mode bar; remove the browser's default 8px body margin so the figure sits at the page origin
fig.write_html("out.html", config={"displayModeBar": False, "staticPlot": True},
               post_script="document.body.style.margin='0';")
